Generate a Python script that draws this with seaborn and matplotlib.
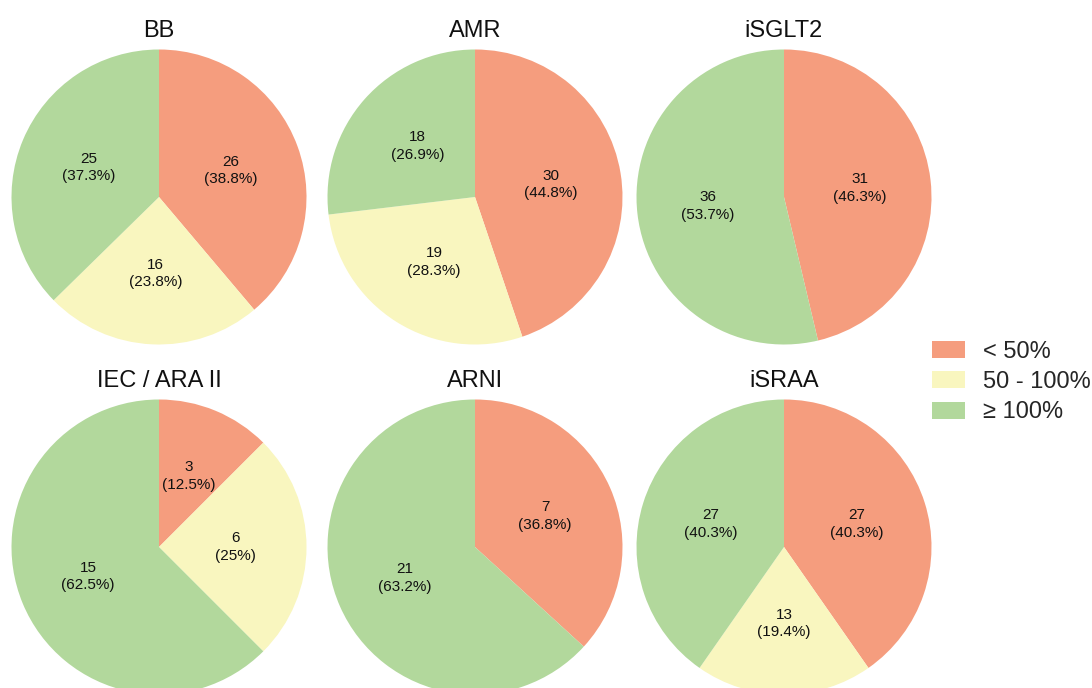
import matplotlib
matplotlib.use("Agg")
import matplotlib.pyplot as plt
from matplotlib.patches import Patch
import seaborn as sns

sns.set_theme(style="white")
plt.rcParams["font.family"] = ["Liberation Sans", "DejaVu Sans"]

# Drug classes, one pie each
drug_classes = ["BB", "AMR", "iSGLT2", "IEC / ARA II", "ARNI", "iSRAA"]
categories = ["< 50%", "50 - 100%", "≥ 100%"]

# Patient counts per dose category (< 50%, 50-100%, >= 100%)
counts_bb = [26, 16, 25]
counts_amr = [30, 19, 18]
counts_isglt2 = [31, 0, 36]
counts_iec = [3, 6, 15]
counts_arni = [7, 0, 21]
counts_israa = [27, 13, 27]

# Percentages reported for each category
pct_bb = [38.8, 23.8, 37.3]
pct_amr = [44.8, 28.3, 26.9]
pct_isglt2 = [46.3, 0, 53.7]
pct_iec = [12.5, 25, 62.5]
pct_arni = [36.8, 0, 63.2]
pct_israa = [40.3, 19.4, 40.3]

all_counts = [counts_bb, counts_amr, counts_isglt2, counts_iec, counts_arni, counts_israa]
all_pcts = [pct_bb, pct_amr, pct_isglt2, pct_iec, pct_arni, pct_israa]

colors = ["#F59D7E", "#F9F6BF", "#B2D89C"]

W, H = 1092, 688
fig = plt.figure(figsize=(W / 100, H / 100), dpi=100)

radius_px = 147.5
centers_x = [159, 475, 784]
centers_y = [197, 547]


def fmt_pct(p):
    return f"{p:g}"


for i, (name, cnts, pcts) in enumerate(zip(drug_classes, all_counts, all_pcts)):
    row, col = divmod(i, 3)
    cx, cy = centers_x[col], centers_y[row]
    ax = fig.add_axes([(cx - radius_px) / W, 1 - (cy + radius_px) / H,
                       2 * radius_px / W, 2 * radius_px / H])
    labels_iter = iter([f"{c}\n({fmt_pct(p)}%)" for c, p in zip(cnts, pcts)])

    def autopct(_p, it=labels_iter):
        s = next(it)
        return s if not s.startswith("0\n") else ""

    ax.pie(pcts, colors=colors, startangle=90, counterclock=False,
           autopct=autopct, pctdistance=0.52,
           wedgeprops=dict(linewidth=0),
           textprops=dict(fontsize=11, color="#111111", linespacing=1.3))
    ax.set_xlim(-1, 1)
    ax.set_ylim(-1, 1)
    ax.set_aspect("equal")
    ax.set_title(name, fontsize=17, pad=9, color="#111111")

handles = [Patch(facecolor=c, edgecolor="none") for c in colors]
fig.legend(handles, categories, loc="center left",
           bbox_to_anchor=(932 / W, 1 - 382 / H), frameon=False,
           fontsize=17, borderpad=0, borderaxespad=0,
           handlelength=1.4, handleheight=0.72, handletextpad=0.75,
           labelspacing=0.36)

fig.savefig("out.png", dpi=100)
